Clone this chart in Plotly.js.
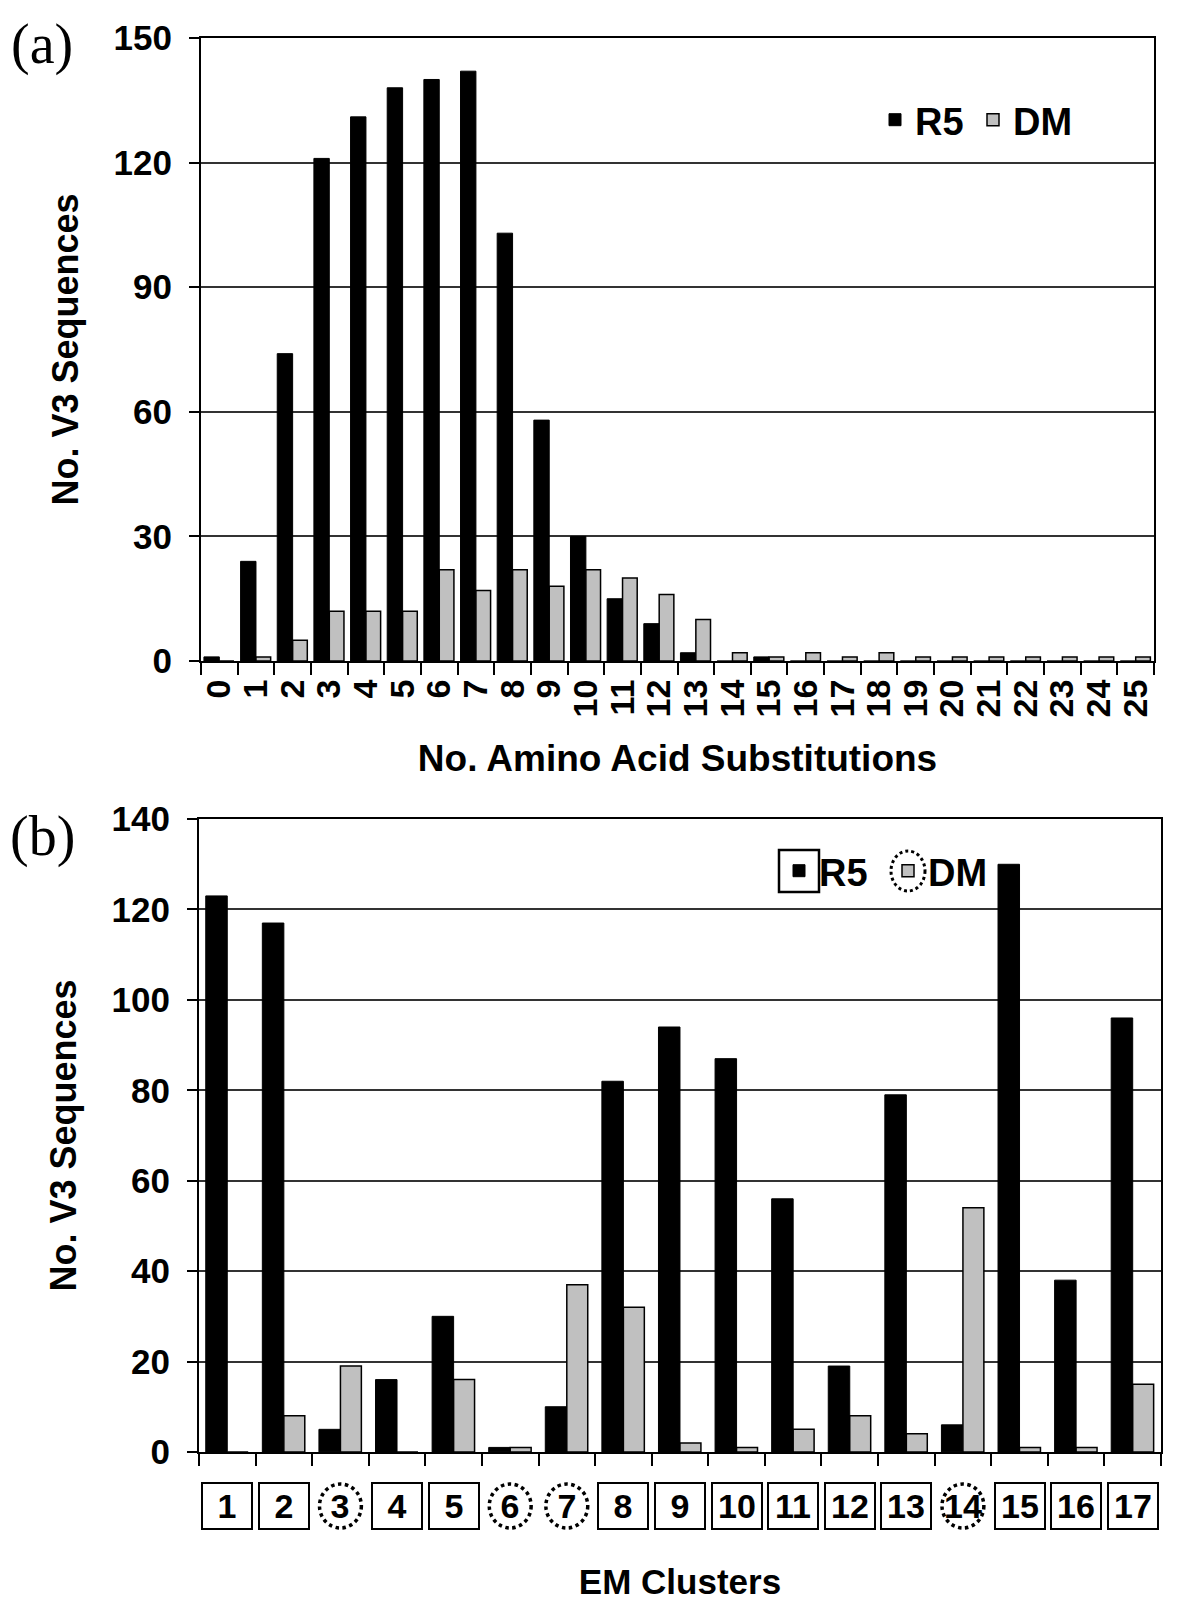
<!DOCTYPE html>
<html><head><meta charset="utf-8">
<script src="https://cdn.plot.ly/plotly-3.0.1.min.js"></script>
<style>body{margin:0;background:#fff}</style>
</head><body><div id="chart" style="width:1200px;height:1601px"></div>
<script>
// ---- data ----
const substitutions = ['0','1','2','3','4','5','6','7','8','9','10','11','12','13','14','15','16','17','18','19','20','21','22','23','24','25'];
const r5Subst = [1,24,74,121,131,138,140,142,103,58,30,15,9,2,0,1,0,0,0,0,0,0,0,0,0,0];
const dmSubst = [0,1,5,12,12,12,22,17,22,18,22,20,16,10,2,1,2,1,2,1,1,1,1,1,1,1];
const clusters = ['1','2','3','4','5','6','7','8','9','10','11','12','13','14','15','16','17'];
const r5Cluster = [123,117,5,16,30,1,10,82,94,87,56,19,79,6,130,38,96];
const dmCluster = [0,8,19,0,16,1,37,32,2,1,5,8,4,54,1,1,15];
const circledClusters = ['3','6','7','14'];
const seriesNames = ['R5','DM'];

// ---- styles ----
const W = 1200, H = 1601;
const FAM = '"Liberation Sans", Arial, sans-serif';
const bold = (s) => ({family: FAM, size: s, color: '#000', weight: 700});
const serif = {family:'"Liberation Serif", "Times New Roman", serif', size:56, color:'#000', weight:400};
const BLACK = '#000000', GRAY = '#c0c0c0';
const px = (x) => x / W, py = (y) => 1 - y / H;

const traces = [
  {type:'bar', name:seriesNames[0], x:substitutions, y:r5Subst, xaxis:'x', yaxis:'y', legend:'legend',
   marker:{color:BLACK, line:{color:'#000', width:1}}, width:0.42, offset:-0.42},
  {type:'bar', name:seriesNames[1], x:substitutions, y:dmSubst, xaxis:'x', yaxis:'y', legend:'legend',
   marker:{color:GRAY, line:{color:'#000', width:1.5}}, width:0.40, offset:0},
  {type:'bar', name:seriesNames[0], x:clusters, y:r5Cluster, xaxis:'x2', yaxis:'y2', legend:'legend2',
   marker:{color:BLACK, line:{color:'#000', width:1}}, width:0.38, offset:-0.38},
  {type:'bar', name:seriesNames[1], x:clusters, y:dmCluster, xaxis:'x2', yaxis:'y2', legend:'legend2',
   marker:{color:GRAY, line:{color:'#000', width:1.5}}, width:0.37, offset:0}
];

const commonX = {type:'category', tickson:'boundaries', ticks:'outside', ticklen:12, tickwidth:2, tickcolor:'#000',
  showline:true, linewidth:2, linecolor:'#000', mirror:true, showgrid:false, zeroline:false, tickmode:'linear', tick0:0, dtick:1};
const commonY = {ticks:'outside', ticklen:10, tickwidth:2, tickcolor:'#000', showline:true, linewidth:2, linecolor:'#000',
  mirror:true, showgrid:true, gridcolor:'#333', gridwidth:2, zeroline:false, tickfont:bold(35), ticklabelstandoff:10};

const annotations = [
  {xref:'paper', yref:'paper', x:px(42), y:py(45), text:'(a)', showarrow:false, xanchor:'center', yanchor:'middle', font:serif},
  {xref:'paper', yref:'paper', x:px(42), y:py(836), text:'(b)', showarrow:false, xanchor:'center', yanchor:'middle', font:serif}
];
const shapes = [];
clusters.forEach((c, i) => {
  const circ = circledClusters.includes(c);
  annotations.push({xref:'x2', yref:'paper', x:i, y:py(1506), text:c, showarrow:false, xanchor:'center', yanchor:'middle',
    font:bold(34), bordercolor: circ ? 'rgba(0,0,0,0)' : '#000', borderwidth:2, width:46, height:42});
  if (circ) {
    shapes.push({type:'circle', xref:'x2', yref:'paper', x0:i-0.37, x1:i+0.37, y0:py(1528), y1:py(1484),
      line:{color:'#000', width:3.5, dash:'dot'}});
  }
});
// frames around the legend symbols of panel (b)
const leg2X = 779, leg2Y = 871, leg2Step = 109;
shapes.push({type:'rect', xref:'paper', yref:'paper', x0:px(leg2X), x1:px(leg2X + 40), y0:py(leg2Y + 21), y1:py(leg2Y - 21),
  line:{color:'#000', width:2.5}});
shapes.push({type:'circle', xref:'paper', yref:'paper', x0:px(leg2X + 3 + leg2Step), x1:px(leg2X + 37 + leg2Step),
  y0:py(leg2Y + 20), y1:py(leg2Y - 20), line:{color:'#000', width:3, dash:'dot'}});

const layout = {
  width:W, height:H, margin:{l:0,r:0,t:0,b:0}, paper_bgcolor:'#fff', plot_bgcolor:'#fff',
  barmode:'overlay', font:bold(32), showlegend:true,
  xaxis: Object.assign({}, commonX, {domain:[0.1675,0.9617], anchor:'y', tickangle:-90, tickfont:bold(34), ticklabelstandoff:3,
    title:{text:'No. Amino Acid Substitutions', font:bold(37), standoff:29}}),
  yaxis: Object.assign({}, commonY, {domain:[0.5871,0.9763], anchor:'x', range:[0,150], tick0:0, dtick:30,
    title:{text:'No. V3 Sequences', font:bold(36), standoff:24}}),
  xaxis2: Object.assign({}, commonX, {domain:[0.1658,0.9675], anchor:'y2', showticklabels:false,
    title:{text:'EM Clusters', font:bold(35), standoff:119}}),
  yaxis2: Object.assign({}, commonY, {domain:[0.0931,0.4884], anchor:'x2', range:[0,140], tick0:0, dtick:20,
    title:{text:'No. V3 Sequences', font:bold(36), standoff:24}}),
  legend: {x:px(875), y:py(120), xanchor:'left', yanchor:'middle', orientation:'h', font:bold(38), bgcolor:'rgba(0,0,0,0)',
    itemwidth:30, entrywidth:53, entrywidthmode:'pixels'},
  legend2: {x:px(leg2X), y:py(leg2Y), xanchor:'left', yanchor:'middle', orientation:'h', font:bold(38), bgcolor:'rgba(0,0,0,0)',
    itemwidth:30, entrywidth:leg2Step - 45, entrywidthmode:'pixels'},
  annotations: annotations,
  shapes: shapes
};

Plotly.newPlot('chart', traces, layout, {displayModeBar:false, staticPlot:true});
</script>
</body></html>
